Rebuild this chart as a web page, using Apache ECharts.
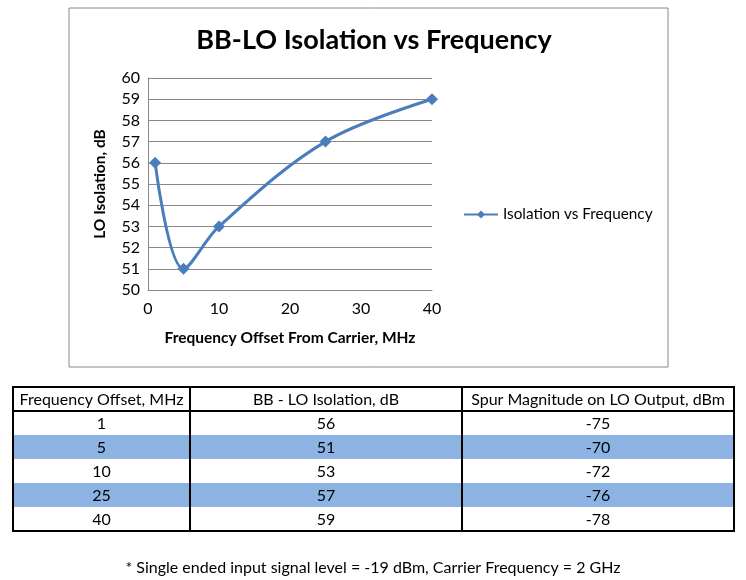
<!DOCTYPE html>
<html><head><meta charset="utf-8">
<script src="https://cdn.jsdelivr.net/npm/echarts@6/dist/echarts.min.js"></script>
<style>html,body{margin:0;padding:0;background:#fff}#c{width:746px;height:580px}</style>
</head><body><div id="c"></div>
<script>
var freq = [1, 5, 10, 25, 40];
var isolation = [56, 51, 53, 57, 59];
var spur = [-75, -70, -72, -76, -78];
var tableHeader = ['Frequency Offset, MHz', 'BB - LO Isolation, dB', 'Spur Magnitude on LO Output, dBm'];
var seriesName = 'Isolation vs Frequency';
var titleText = 'BB-LO Isolation vs Frequency';
var footnote = '* Single ended input signal level = -19 dBm, Carrier Frequency = 2 GHz';

var FONT = 'Lato';
var chart = echarts.init(document.getElementById('c'), null, {renderer: 'canvas'});

// table layout
var colX = [13, 190, 462, 734];
var tTop = 387, headH = 24, rowH = 24;
var g = [];
g.push({type: 'rect', shape: {x: 69, y: 8, width: 599, height: 359}, style: {fill: 'none', stroke: '#888', lineWidth: 1}, z: -1});
var nRows = freq.length;
for (var r = 0; r < nRows; r++) {
  var y0 = tTop + headH + r * rowH;
  if (r % 2 === 1) {
    g.push({type: 'rect', shape: {x: colX[0], y: y0, width: colX[3] - colX[0], height: rowH}, style: {fill: '#8DB3E2'}});
  }
  var vals = [freq[r], isolation[r], spur[r]];
  for (var c = 0; c < 3; c++) {
    g.push({type: 'text', x: (colX[c] + colX[c + 1]) / 2, y: y0 + rowH / 2 + 1,
      style: {text: String(vals[c]), font: '16px ' + FONT, fill: '#000', align: 'center', verticalAlign: 'middle'}});
  }
}
for (var c = 0; c < 3; c++) {
  g.push({type: 'text', x: (colX[c] + colX[c + 1]) / 2, y: tTop + headH / 2 + 1,
    style: {text: tableHeader[c], font: '16px ' + FONT, fill: '#000', align: 'center', verticalAlign: 'middle'}});
}
var tBottom = tTop + headH + nRows * rowH;
g.push({type: 'rect', shape: {x: colX[0], y: tTop, width: colX[3] - colX[0], height: tBottom - tTop}, style: {fill: 'none', stroke: '#000', lineWidth: 2}});
g.push({type: 'line', shape: {x1: colX[0], y1: tTop + headH, x2: colX[3], y2: tTop + headH}, style: {stroke: '#000', lineWidth: 2}});
for (var c = 1; c < 3; c++) {
  g.push({type: 'line', shape: {x1: colX[c], y1: tTop, x2: colX[c], y2: tBottom}, style: {stroke: '#000', lineWidth: 2}});
}
g.push({type: 'text', x: 373, y: 568, style: {text: footnote, font: '16px ' + FONT, fill: '#000', align: 'center', verticalAlign: 'middle'}});

var data = freq.map(function (f, i) { return [f, isolation[i]]; });

chart.setOption({
  animation: false,
  backgroundColor: '#fff',
  title: {text: titleText, left: 369, top: 22, textAlign: 'center',
    textStyle: {fontFamily: FONT, fontWeight: 'bold', fontSize: 27, color: '#000'}},
  grid: {left: 148, right: 314, top: 78, bottom: 290},
  legend: {left: 458, top: 202, itemWidth: 34, itemHeight: 10,
    textStyle: {fontFamily: FONT, fontSize: 15.3, color: '#000'}, data: [seriesName]},
  xAxis: {type: 'value', min: 0, max: 40, interval: 10,
    name: 'Frequency Offset From Carrier, MHz', nameLocation: 'middle', nameGap: 40,
    nameTextStyle: {fontFamily: FONT, fontWeight: 'bold', fontSize: 15.5, color: '#000'},
    axisLine: {lineStyle: {color: '#888'}}, axisTick: {show: false},
    axisLabel: {fontFamily: FONT, fontSize: 16, color: '#000', margin: 11},
    splitLine: {show: false}},
  yAxis: {type: 'value', min: 50, max: 60, interval: 1,
    name: 'LO Isolation, dB', nameLocation: 'middle', nameGap: 40,
    nameTextStyle: {fontFamily: FONT, fontWeight: 'bold', fontSize: 15.5, color: '#000'},
    axisLine: {show: true, lineStyle: {color: '#888'}}, axisTick: {show: false},
    axisLabel: {fontFamily: FONT, fontSize: 16, color: '#000', margin: 8},
    splitLine: {lineStyle: {color: '#888', width: 1}}},
  series: [{name: seriesName, type: 'line', data: data, smooth: 0.35,
    symbol: 'diamond', symbolSize: 12,
    lineStyle: {color: '#4A7EBB', width: 3}, itemStyle: {color: '#4A7EBB'}}],
  graphic: g
});
</script></body></html>
